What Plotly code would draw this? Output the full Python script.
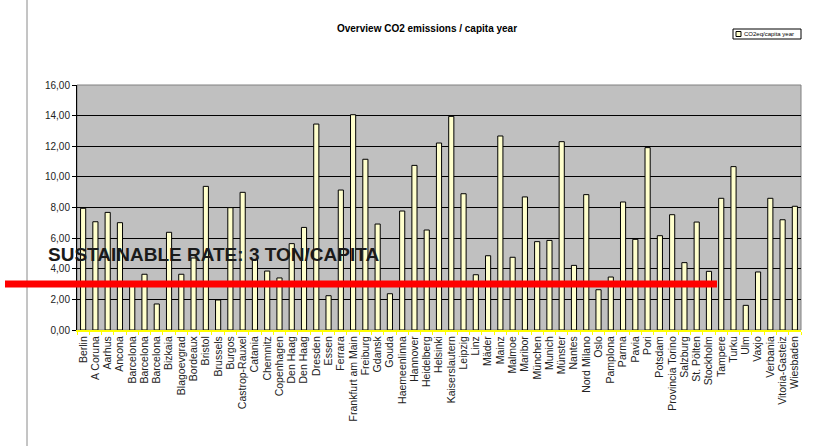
import plotly.graph_objects as go

cities = ["Berlin", "A Coruna", "Aarhus", "Ancona", "Barcelona", "Barcelona ", "Barcelona  ",
          "Bizkaia", "Blagoevgrad", "Bordeaux", "Bristol", "Brussels", "Burgos", "Castrop-Rauxel",
          "Catania", "Chemnitz", "Copenhagen", "Den Haag", "Den Haag ", "Dresden", "Essen",
          "Ferrara", "Frankfurt am Main", "Freiburg", "Gdansk", "Gouda", "Haemeenlinna",
          "Hannover", "Heidelberg", "Helsinki", "Kaiserslautern", "Leipzig", "Linz", "Mäder",
          "Mainz", "Malmoe", "Maribor", "München", "Munich", "Münster", "Nantes", "Nord Milano",
          "Oslo", "Pamplona", "Parma", "Pavia", "Pori", "Potsdam", "Provincia Torino",
          "Salzburg", "St. Pölten", "Stockholm", "Tampere", "Turku", "Ulm", "Vaxjo", "Verbania",
          "Vitoria-Gasteiz", "Wiesbaden"]

co2_per_capita = [7.95, 7.07, 7.68, 7.01, 3.0, 3.64, 1.70,
                  6.38, 3.64, 4.7, 9.38, 1.96, 7.99, 8.99,
                  4.6, 3.85, 3.40, 5.64, 6.70, 13.45, 2.24,
                  9.14, 14.06, 11.15, 6.92, 2.37, 7.77,
                  10.75, 6.53, 12.21, 13.95, 8.90, 3.61, 4.85,
                  12.67, 4.75, 8.69, 5.77, 5.85, 12.30, 4.22, 8.84,
                  2.63, 3.46, 8.36, 5.92, 11.91, 6.16, 7.53,
                  4.40, 7.05, 3.83, 8.60, 10.67, 1.61, 3.79, 8.60,
                  7.20, 8.08]

y_ticks = [0, 2, 4, 6, 8, 10, 12, 14, 16]
y_tick_labels = ["0,00", "2,00", "4,00", "6,00", "8,00", "10,00", "12,00", "14,00", "16,00"]

series_name = "CO2eq/capita year"
sustainable_rate = 3

fig = go.Figure()
fig.add_trace(go.Bar(
    x=cities, y=co2_per_capita, name=series_name,
    marker=dict(color="#FFFFCC", line=dict(color="#000000", width=1)),
    width=0.42, showlegend=False,
))

W, H = 817, 446
L, R, T, B = 77, 16, 85, 116
pw = W - L - R
ph = H - T - B

def px_x(p):
    return (p - L) / pw

def px_y(p):
    return (H - B - p) / ph

fig.update_layout(
    width=W, height=H,
    margin=dict(l=L, r=R, t=T, b=B, pad=0, autoexpand=False),
    paper_bgcolor="white",
    plot_bgcolor="#C0C0C0",
    font=dict(family="Liberation Sans, Arial, sans-serif", color="#111111"),
    title=dict(text="<b>Overview CO2 emissions / capita year</b>",
               x=427 / W, xanchor="center", xref="container",
               y=1 - 28 / H, yanchor="middle", yref="container",
               font=dict(size=10, color="#000000")),
    showlegend=False,
    xaxis=dict(
        type="category", tickangle=-90,
        tickmode="array", tickvals=cities, ticktext=[c.strip() for c in cities],
        tickfont=dict(size=10.5, color="#222222"),
        showline=True, linecolor="#FFFF00", linewidth=2,
        ticks="outside", tickson="boundaries", tickcolor="#FFFF00", ticklen=3,
        showgrid=False, range=[-0.5, len(cities) - 0.5],
    ),
    yaxis=dict(
        range=[0, 16], tickvals=y_ticks, ticktext=y_tick_labels,
        tickfont=dict(size=10, color="#222222"),
        showgrid=True, gridcolor="#000000", gridwidth=1,
        zeroline=False, showline=True, linecolor="#000000", linewidth=1,
        ticks="outside", ticklen=4, tickcolor="#000000",
    ),
)

# plot-area border (top/right)
fig.add_shape(type="rect", xref="paper", yref="paper", x0=0, x1=1, y0=0, y1=1,
              line=dict(color="#808080", width=1), layer="below")

# faint chart border on the left
fig.add_shape(type="line", xref="paper", yref="paper",
              x0=px_x(27), x1=px_x(27), y0=px_y(446), y1=px_y(0),
              line=dict(color="#8a8a8a", width=1))

# small legend box (drawn manually to match the tiny Excel legend)
fig.add_shape(type="rect", xref="paper", yref="paper",
              x0=px_x(733), x1=px_x(801), y0=px_y(39), y1=px_y(29),
              line=dict(color="#000000", width=1), fillcolor="white")
fig.add_shape(type="rect", xref="paper", yref="paper",
              x0=px_x(736), x1=px_x(741), y0=px_y(36.5), y1=px_y(31.5),
              line=dict(color="#000000", width=1), fillcolor="#FFFFCC")
fig.add_annotation(text=series_name, xref="paper", yref="paper",
                   x=px_x(742), y=px_y(34), xanchor="left", yanchor="middle",
                   showarrow=False, font=dict(size=6, color="#000000"))

# sustainable rate red line
fig.add_shape(type="line", xref="paper", yref="y",
              x0=px_x(5), x1=px_x(717), y0=sustainable_rate, y1=sustainable_rate,
              line=dict(color="#FF0000", width=7))

fig.add_annotation(text="<b>SUSTAINABLE RATE: 3 TON/CAPITA</b>",
                   xref="paper", yref="y", x=px_x(46), y=4.9,
                   xanchor="left", yanchor="middle", showarrow=False,
                   font=dict(size=19, color="#1a1a1a",
                             family="Liberation Sans, Arial, sans-serif"))

fig.write_html("out.html")
